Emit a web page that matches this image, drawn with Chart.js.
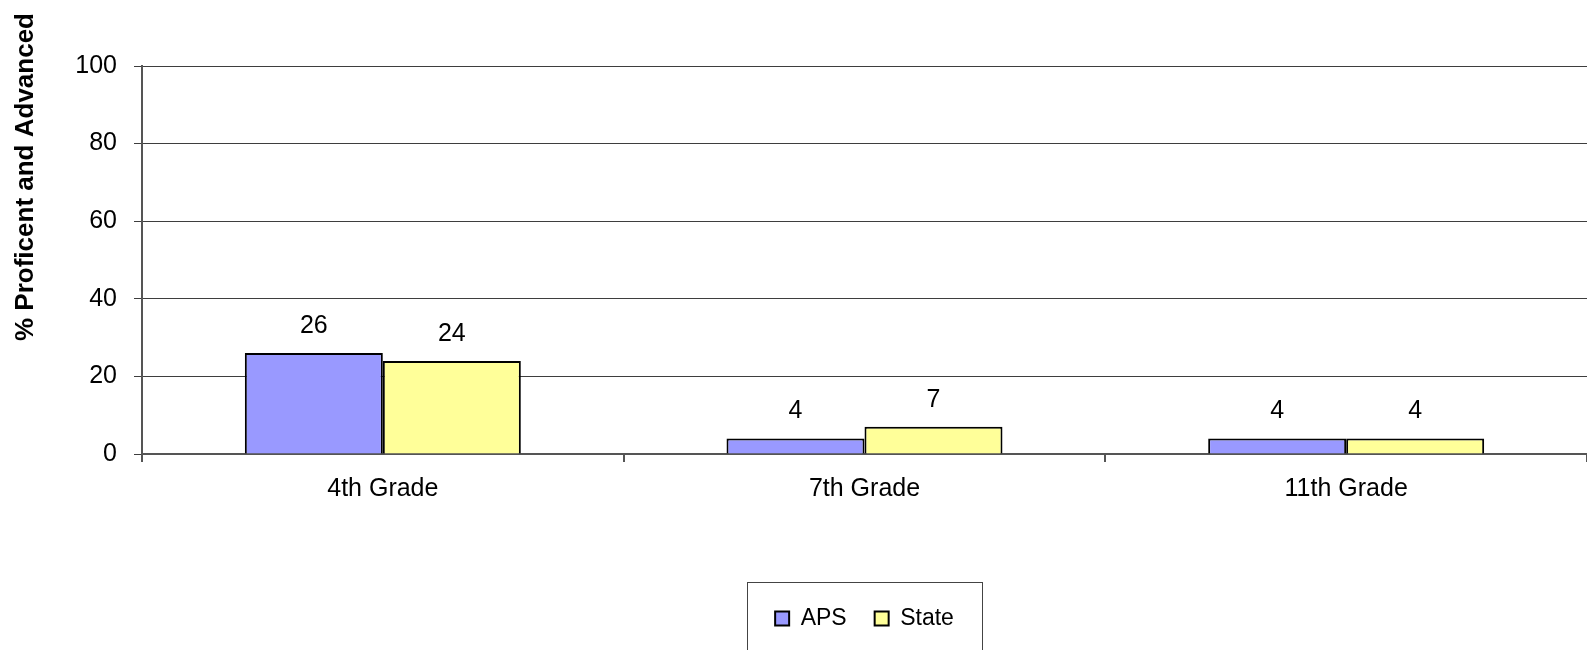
<!DOCTYPE html>
<html lang="en">
<head>
<meta charset="UTF-8">
<title>% Proficent and Advanced</title>
<script src="https://cdn.jsdelivr.net/npm/chart.js"></script>
<style>
  html, body { margin: 0; padding: 0; background: #fff; }
</style>
</head>
<body>
<canvas id="gradeChart" width="1587" height="650"></canvas>
<script>
// grade levels and % proficient/advanced per group
const grades = ['4th Grade', '7th Grade', '11th Grade'];
const apsValues = [26, 4, 4];
const stateValues = [24, 7, 4];
const yTitle = '% Proficent and Advanced';

const FONT = '"Liberation Sans", Arial, sans-serif';
const GRID = '#3e3e3e';
const AXIS = '#555';

// numbers above each bar
const valueLabels = {
  id: 'valueLabels',
  afterDatasetsDraw(chart) {
    const ctx = chart.ctx;
    ctx.save();
    ctx.font = '25px ' + FONT;
    ctx.fillStyle = '#000';
    ctx.textAlign = 'center';
    ctx.textBaseline = 'middle';
    chart.data.datasets.forEach((ds, i) => {
      chart.getDatasetMeta(i).data.forEach((bar, j) => {
        ctx.fillText(ds.data[j], bar.x, bar.y - 27);
      });
    });
    ctx.restore();
  }
};

// vertical axis title, sits high on the left edge
const axisTitle = {
  id: 'axisTitle',
  afterDraw(chart) {
    const ctx = chart.ctx;
    ctx.save();
    ctx.translate(26, 177);
    ctx.rotate(-Math.PI / 2);
    ctx.font = 'bold 26px ' + FONT;
    ctx.fillStyle = '#000';
    ctx.textAlign = 'center';
    ctx.textBaseline = 'middle';
    ctx.fillText(yTitle, 0, 0);
    ctx.restore();
  }
};

// frame round the legend items
const legendFrame = {
  id: 'legendFrame',
  afterDraw(chart) {
    const boxes = chart.legend.legendHitBoxes;
    if (!boxes || !boxes.length) return;
    const first = boxes[0];
    const last = boxes[boxes.length - 1];
    const left = Math.round(first.left - 28);
    const right = Math.round(last.left + last.width + 28);
    const top = Math.round(first.top + first.height / 2 - 37);
    const ctx = chart.ctx;
    ctx.save();
    ctx.strokeStyle = '#444';
    ctx.lineWidth = 1;
    ctx.strokeRect(left + 0.5, top + 0.5, right - left, 80);
    ctx.restore();
  }
};

new Chart(document.getElementById('gradeChart'), {
  type: 'bar',
  data: {
    labels: grades,
    datasets: [
      {
        label: 'APS',
        data: apsValues,
        backgroundColor: '#9999ff',
        borderColor: '#000',
        borderWidth: 2,
        categoryPercentage: 0.573,
        barPercentage: 1.0
      },
      {
        label: 'State',
        data: stateValues,
        backgroundColor: '#ffff99',
        borderColor: '#000',
        borderWidth: 2,
        categoryPercentage: 0.573,
        barPercentage: 1.0
      }
    ]
  },
  options: {
    responsive: false,
    animation: false,
    layout: { padding: { top: 66, left: 0, right: 0, bottom: 10 } },
    plugins: {
      legend: {
        position: 'bottom',
        fullSize: false,
        labels: {
          font: { family: FONT, size: 23 },
          color: '#000',
          boxWidth: 14,
          boxHeight: 14,
          padding: 28
        }
      },
      tooltip: { enabled: false }
    },
    scales: {
      x: {
        grid: {
          display: true,
          drawOnChartArea: false,
          color: AXIS,
          lineWidth: 2,
          tickLength: 8
        },
        border: { color: AXIS, width: 2 },
        ticks: {
          font: { family: FONT, size: 25 },
          color: '#000',
          padding: 12
        },
        afterFit(scale) { scale.height = 125; }
      },
      y: {
        min: 0,
        max: 100,
        ticks: {
          stepSize: 20,
          font: { family: FONT, size: 25 },
          color: '#000',
          padding: 17
        },
        grid: { color: GRID, tickLength: 8 },
        border: { color: AXIS, width: 2 },
        afterFit(scale) { scale.width = 142; }
      }
    }
  },
  plugins: [valueLabels, axisTitle, legendFrame]
});
</script>
</body>
</html>
